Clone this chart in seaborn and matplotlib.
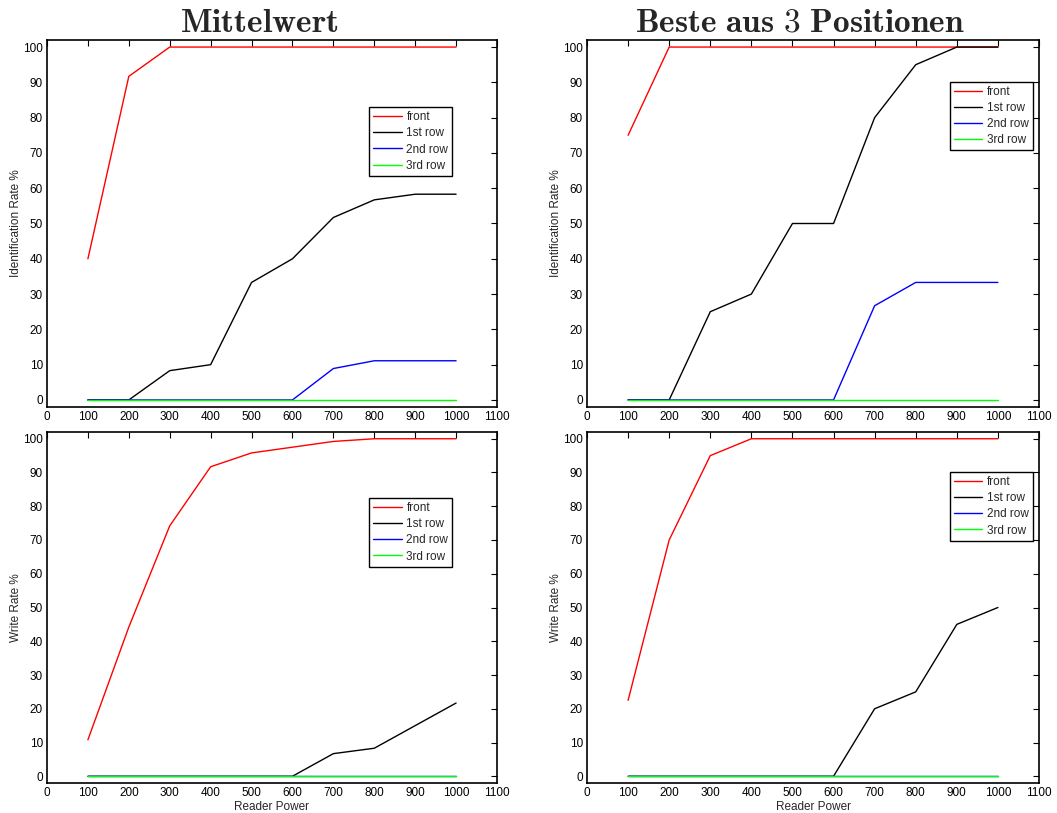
import numpy as np
import pandas as pd
import matplotlib
matplotlib.use("Agg")
import matplotlib.pyplot as plt
import seaborn as sns

# Reader power settings
power = [100, 200, 300, 400, 500, 600, 700, 800, 900, 1000]
rows = ["front", "1st row", "2nd row", "3rd row"]

# Identification rate, averaged
id_mean_front = [40, 91.7, 100, 100, 100, 100, 100, 100, 100, 100]
id_mean_row1 = [0, 0, 8.3, 10, 33.3, 40, 51.7, 56.7, 58.3, 58.3]
id_mean_row2 = [0, 0, 0, 0, 0, 0, 8.9, 11.1, 11.1, 11.1]
id_mean_row3 = [0, 0, 0, 0, 0, 0, 0, 0, 0, 0]

# Identification rate, best of 3 positions
id_best_front = [75, 100, 100, 100, 100, 100, 100, 100, 100, 100]
id_best_row1 = [0, 0, 25, 30, 50, 50, 80, 95, 100, 100]
id_best_row2 = [0, 0, 0, 0, 0, 0, 26.7, 33.3, 33.3, 33.3]
id_best_row3 = [0, 0, 0, 0, 0, 0, 0, 0, 0, 0]

# Write rate, averaged
wr_mean_front = [10.8, 44.2, 74.2, 91.7, 95.8, 97.5, 99.2, 100, 100, 100]
wr_mean_row1 = [0, 0, 0, 0, 0, 0, 6.7, 8.3, 15, 21.7]
wr_mean_row2 = [0, 0, 0, 0, 0, 0, 0, 0, 0, 0]
wr_mean_row3 = [0, 0, 0, 0, 0, 0, 0, 0, 0, 0]

# Write rate, best of 3 positions
wr_best_front = [22.5, 70, 95, 100, 100, 100, 100, 100, 100, 100]
wr_best_row1 = [0, 0, 0, 0, 0, 0, 20, 25, 45, 50]
wr_best_row2 = [0, 0, 0, 0, 0, 0, 0, 0, 0, 0]
wr_best_row3 = [0, 0, 0, 0, 0, 0, 0, 0, 0, 0]

titles = [r"$\mathbf{Mittelwert}$", r"$\mathbf{Beste\ aus\ 3\ Positionen}$"]
ylabels = ["Identification Rate %", "Write Rate %"]
xlabel = "Reader Power"
xticks = list(range(0, 1101, 100))
yticks = list(range(0, 101, 10))

sns.set_style("white")
plt.rcParams["font.family"] = ["Liberation Sans", "DejaVu Sans"]
plt.rcParams["mathtext.fontset"] = "cm"

palette = {"front": "#ff0000", "1st row": "#000000", "2nd row": "#0000ff", "3rd row": "#00ff00"}


def frame(series):
    recs = []
    for name, vals in zip(rows, series):
        for p, v in zip(power, vals):
            recs.append({"power": p, "rate": v, "row": name})
    return pd.DataFrame(recs)


panels = [
    (frame([id_mean_front, id_mean_row1, id_mean_row2, id_mean_row3]), 0, 0),
    (frame([id_best_front, id_best_row1, id_best_row2, id_best_row3]), 0, 1),
    (frame([wr_mean_front, wr_mean_row1, wr_mean_row2, wr_mean_row3]), 1, 0),
    (frame([wr_best_front, wr_best_row1, wr_best_row2, wr_best_row3]), 1, 1),
]

W, H = 1057, 813
fig = plt.figure(figsize=(W / 100, H / 100), dpi=100)

# axes boxes in pixels: (left, top, right, bottom)
boxes = {
    (0, 0): (47, 40, 497, 407),
    (0, 1): (587, 40, 1039, 407),
    (1, 0): (47, 432, 497, 783),
    (1, 1): (587, 432, 1039, 783),
}
legend_anchor = {
    (0, 0): (0.716, 0.817),
    (0, 1): (0.803, 0.886),
    (1, 0): (0.716, 0.812),
    (1, 1): (0.803, 0.886),
}

for df, r, c in panels:
    l, t, rr, b = boxes[(r, c)]
    ax = fig.add_axes([l / W, (H - b) / H, (rr - l) / W, (b - t) / H])
    sns.lineplot(data=df, x="power", y="rate", hue="row", palette=palette,
                 hue_order=rows, linewidth=1.0, ax=ax, legend=True)
    ax.set_xlim(0, 1100)
    ax.set_ylim(-2, 102)
    ax.set_xticks(xticks)
    ax.set_yticks(yticks)
    ax.tick_params(direction="in", length=4, width=0.8, top=True, right=True,
                   labelsize=8.5, pad=3, colors="#000000")
    for s in ax.spines.values():
        s.set_color("black")
        s.set_linewidth(1.2)
    ax.set_ylabel(ylabels[r], fontsize=8.5, labelpad=0.5)
    if r == 1:
        ax.set_xlabel(xlabel, fontsize=8.5, labelpad=1)
    else:
        ax.set_xlabel("")
        ax.set_title(titles[c], fontsize=24, pad=6, x=0.472)
    leg = ax.legend(loc="upper left", bbox_to_anchor=legend_anchor[(r, c)],
                    fontsize=8.5, frameon=True, fancybox=False, handlelength=2.4,
                    handletextpad=0.4, borderpad=0.35, labelspacing=0.35,
                    borderaxespad=0)
    leg.get_frame().set_edgecolor("black")
    leg.get_frame().set_linewidth(1.0)
    leg.get_frame().set_alpha(1)

fig.savefig("out.png", dpi=100)
